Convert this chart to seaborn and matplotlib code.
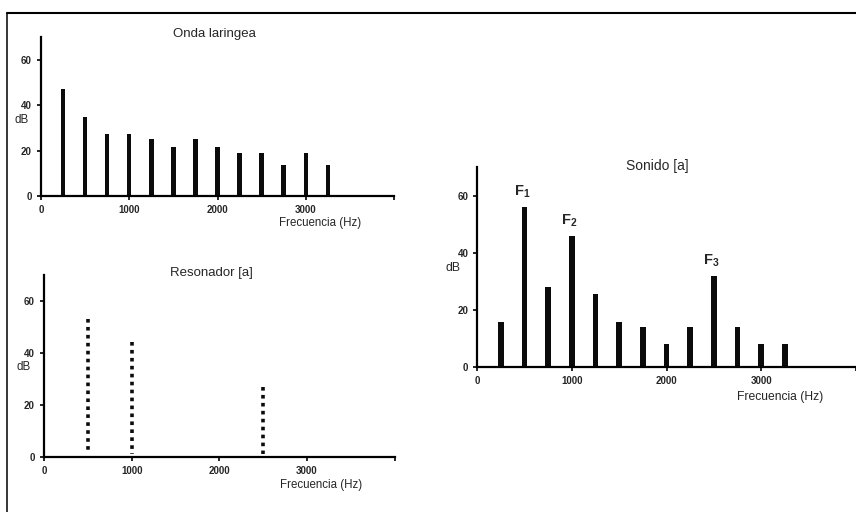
import matplotlib
matplotlib.use("Agg")
import matplotlib.pyplot as plt
import seaborn as sns
import pandas as pd
from matplotlib.lines import Line2D

# ---- data ----
harm_freq = [250, 500, 750, 1000, 1250, 1500, 1750, 2000, 2250, 2500, 2750, 3000, 3250]
onda_db = [47, 35, 27.5, 27.5, 25, 21.5, 25, 21.5, 19, 19, 13.5, 19, 13.5]
reson_freq = [500, 1000, 2500]
reson_db = [53, 44, 27]
sonido_db = [16, 56, 28, 46, 25.5, 16, 14, 8, 14, 32, 14, 8, 8]
formant_labels = [r"$\mathbf{F_1}$", r"$\mathbf{F_2}$", r"$\mathbf{F_3}$"]
formant_freq = [500, 1000, 2500]
formant_db = [56, 46, 32]
titles = ["Onda laringea", "Resonador [a]", "Sonido [a]"]
x_ticks = [0, 1000, 2000, 3000, 4000]
x_tick_labels = ["0", "1000", "2000", "3000", ""]
y_ticks = [0, 20, 40, 60]
y_tick_labels = ["0", "20", "40", "60"]
x_label = "Frecuencia (Hz)"
y_label = "dB"

sns.set_style("white")
plt.rcParams["font.family"] = ["Liberation Sans", "DejaVu Sans"]
plt.rcParams["mathtext.fontset"] = "custom"
plt.rcParams["mathtext.rm"] = "Liberation Sans"
plt.rcParams["mathtext.bf"] = "Liberation Sans:bold"

W, H = 856, 512
fig = plt.figure(figsize=(W / 100, H / 100), dpi=100)
fig.patch.set_facecolor("white")

def px_axes(x0, x1, y_top, y_bot):
    return fig.add_axes([x0 / W, (H - y_bot) / H, (x1 - x0) / W, (y_bot - y_top) / H])

ax1 = px_axes(41, 394, 37, 196)
ax2 = px_axes(44, 394.5, 274.7, 456.7)
ax3 = px_axes(477.3, 856, 167.4, 367.3)

df1 = pd.DataFrame({"f": harm_freq, "db": onda_db})
df3 = pd.DataFrame({"f": harm_freq, "db": sonido_db})

sns.barplot(data=df1, x="f", y="db", native_scale=True, color="#0b0b0b",
            width=0.2, errorbar=None, ax=ax1, saturation=1, linewidth=0)
sns.barplot(data=df3, x="f", y="db", native_scale=True, color="#0b0b0b",
            width=0.24, errorbar=None, ax=ax3, saturation=1, linewidth=0)
ax2.vlines(reson_freq, ymin=reson_db, ymax=1.2, colors="#0b0b0b",
           linewidth=2.6, linestyles=[(0, (1, 1.2))], capstyle="butt")

def style(ax, title, xlab_x, xlab_y, ylab_x, ylab_y, title_xy, fs_lab, fs_title):
    ax.set_xlim(0, 4000)
    ax.set_ylim(0, 70)
    for s in ["top", "right"]:
        ax.spines[s].set_visible(False)
    for s in ["left", "bottom"]:
        ax.spines[s].set_color("black")
        ax.spines[s].set_linewidth(1.6)
    ax.set_xticks(x_ticks)
    ax.set_xticklabels(x_tick_labels, fontsize=7, fontweight="bold")
    ax.set_yticks(y_ticks)
    ax.set_yticklabels(y_tick_labels, fontsize=7, fontweight="bold")
    ax.tick_params(axis="both", direction="out", length=3, width=1.2,
                   color="black", bottom=True, left=True, pad=3.5)
    ax.set_xlabel(x_label, fontsize=fs_lab, va="center", ha="center")
    ax.xaxis.set_label_coords(xlab_x, xlab_y)
    ax.set_ylabel(y_label, fontsize=fs_lab, rotation=0, va="center", ha="center")
    ax.yaxis.set_label_coords(ylab_x, ylab_y)
    ax.text(title_xy[0], title_xy[1], title, fontsize=fs_title,
            ha="center", va="center", transform=ax.transData, clip_on=False)
    ax.set_facecolor("white")
    ax.grid(False)

style(ax1, titles[0], 0.79, -0.17, -0.055, 0.48, (1970, 71.3), 8.3, 9.5)
style(ax2, titles[1], 0.79, -0.155, -0.057, 0.494, (1906, 70.6), 8.3, 9.5)
style(ax3, titles[2], 0.80, -0.15, -0.063, 0.496, (1900, 70.5), 8.7, 10)

for lab, f, d in zip(formant_labels, formant_freq, formant_db):
    ax3.text(f - 30, d + 5.3, lab, fontsize=10.5, ha="center", va="center")

# frame lines (left and top border of the figure panel)
fig.add_artist(Line2D([7 / W, 7 / W], [0, (H - 12.5) / H], color="black",
                      linewidth=1.1, transform=fig.transFigure))
fig.add_artist(Line2D([7 / W, 1.0], [(H - 12.5) / H, (H - 12.5) / H], color="black",
                      linewidth=1.5, transform=fig.transFigure))

fig.savefig("out.png", dpi=100, facecolor="white")
